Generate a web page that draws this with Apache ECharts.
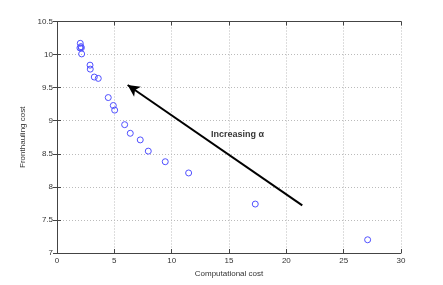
<!DOCTYPE html>
<html><head><meta charset="utf-8">
<script src="https://cdn.jsdelivr.net/npm/echarts@6/dist/echarts.min.js"></script>
<style>html,body{margin:0;padding:0;background:#fff}#c{width:443px;height:285px}</style>
</head><body><div id="c"></div>
<script>
const compCost = [2.03,2.09,2.0,2.12,2.15,2.88,2.9,3.25,3.6,4.47,4.91,5.03,5.9,6.39,7.26,7.96,9.44,11.48,17.29,27.09];
const frontCost = [10.17,10.12,10.10,10.10,10.01,9.84,9.78,9.66,9.64,9.35,9.23,9.16,8.94,8.81,8.71,8.54,8.38,8.21,7.74,7.20];
const arrowFrom = [21.39, 7.72];
const arrowTo = [6.16, 9.54];
const annotationPos = [13.43, 8.79];
const annotationText = 'Increasing α';
const xTicks = [0,5,10,15,20,25,30];
const yTicks = [7,7.5,8,8.5,9,9.5,10,10.5];

const font = 'Liberation Sans, Arial, sans-serif';
const chart = echarts.init(document.getElementById('c'));
const axisCommon = {
  axisLine:{show:true,lineStyle:{color:'#444',width:1}},
  axisTick:{show:true,inside:true,length:4,lineStyle:{color:'#444'}},
  axisLabel:{color:'#333',fontSize:8,fontFamily:font},
  splitLine:{show:false}
};
chart.setOption({
  animation:false,
  grid:{left:57,top:21.5,right:42,bottom:32},
  xAxis:[
    Object.assign({}, axisCommon, {type:'value',min:xTicks[0],max:xTicks[xTicks.length-1],interval:5,position:'bottom',
      name:'Computational cost',nameLocation:'middle',nameGap:11,nameTextStyle:{fontSize:8,color:'#333',fontFamily:font},
      splitLine:{show:true,lineStyle:{color:'#bbb',type:[1,2],width:1}},
      axisLabel:{color:'#333',fontSize:8,fontFamily:font,margin:4}}),
    Object.assign({}, axisCommon, {type:'value',min:0,max:30,interval:5,position:'top',axisLabel:{show:false}})
  ],
  yAxis:[
    Object.assign({}, axisCommon, {type:'value',min:yTicks[0],max:yTicks[yTicks.length-1],interval:0.5,position:'left',
      name:'Fronthauling cost',nameLocation:'middle',nameGap:17,nameTextStyle:{fontSize:8,color:'#333',fontFamily:font},
      splitLine:{show:true,lineStyle:{color:'#bbb',type:[1,2],width:1}},
      axisLabel:{color:'#333',fontSize:8,fontFamily:font,margin:4,formatter:v=>String(v)}}),
    Object.assign({}, axisCommon, {type:'value',min:7,max:10.5,interval:0.5,position:'right',axisLabel:{show:false}})
  ],
  series:[
    {type:'scatter',xAxisIndex:0,yAxisIndex:0,symbol:'circle',symbolSize:6,
     itemStyle:{color:'rgba(255,255,255,0)',borderColor:'#5050ff',borderWidth:1,opacity:1},
     data:compCost.map((x,i)=>[x,frontCost[i]]),
     markLine:{silent:true,symbol:['none','arrow'],symbolSize:[9,12],
       lineStyle:{color:'#000',width:2,type:'solid'},label:{show:false},
       data:[[{coord:arrowFrom},{coord:arrowTo}]]}},
    {type:'scatter',symbolSize:0,silent:true,data:[annotationPos],
     label:{show:true,position:'right',distance:0,formatter:annotationText,
       fontSize:9,fontWeight:'bold',color:'#000',fontFamily:font}}
  ]
});
</script></body></html>
